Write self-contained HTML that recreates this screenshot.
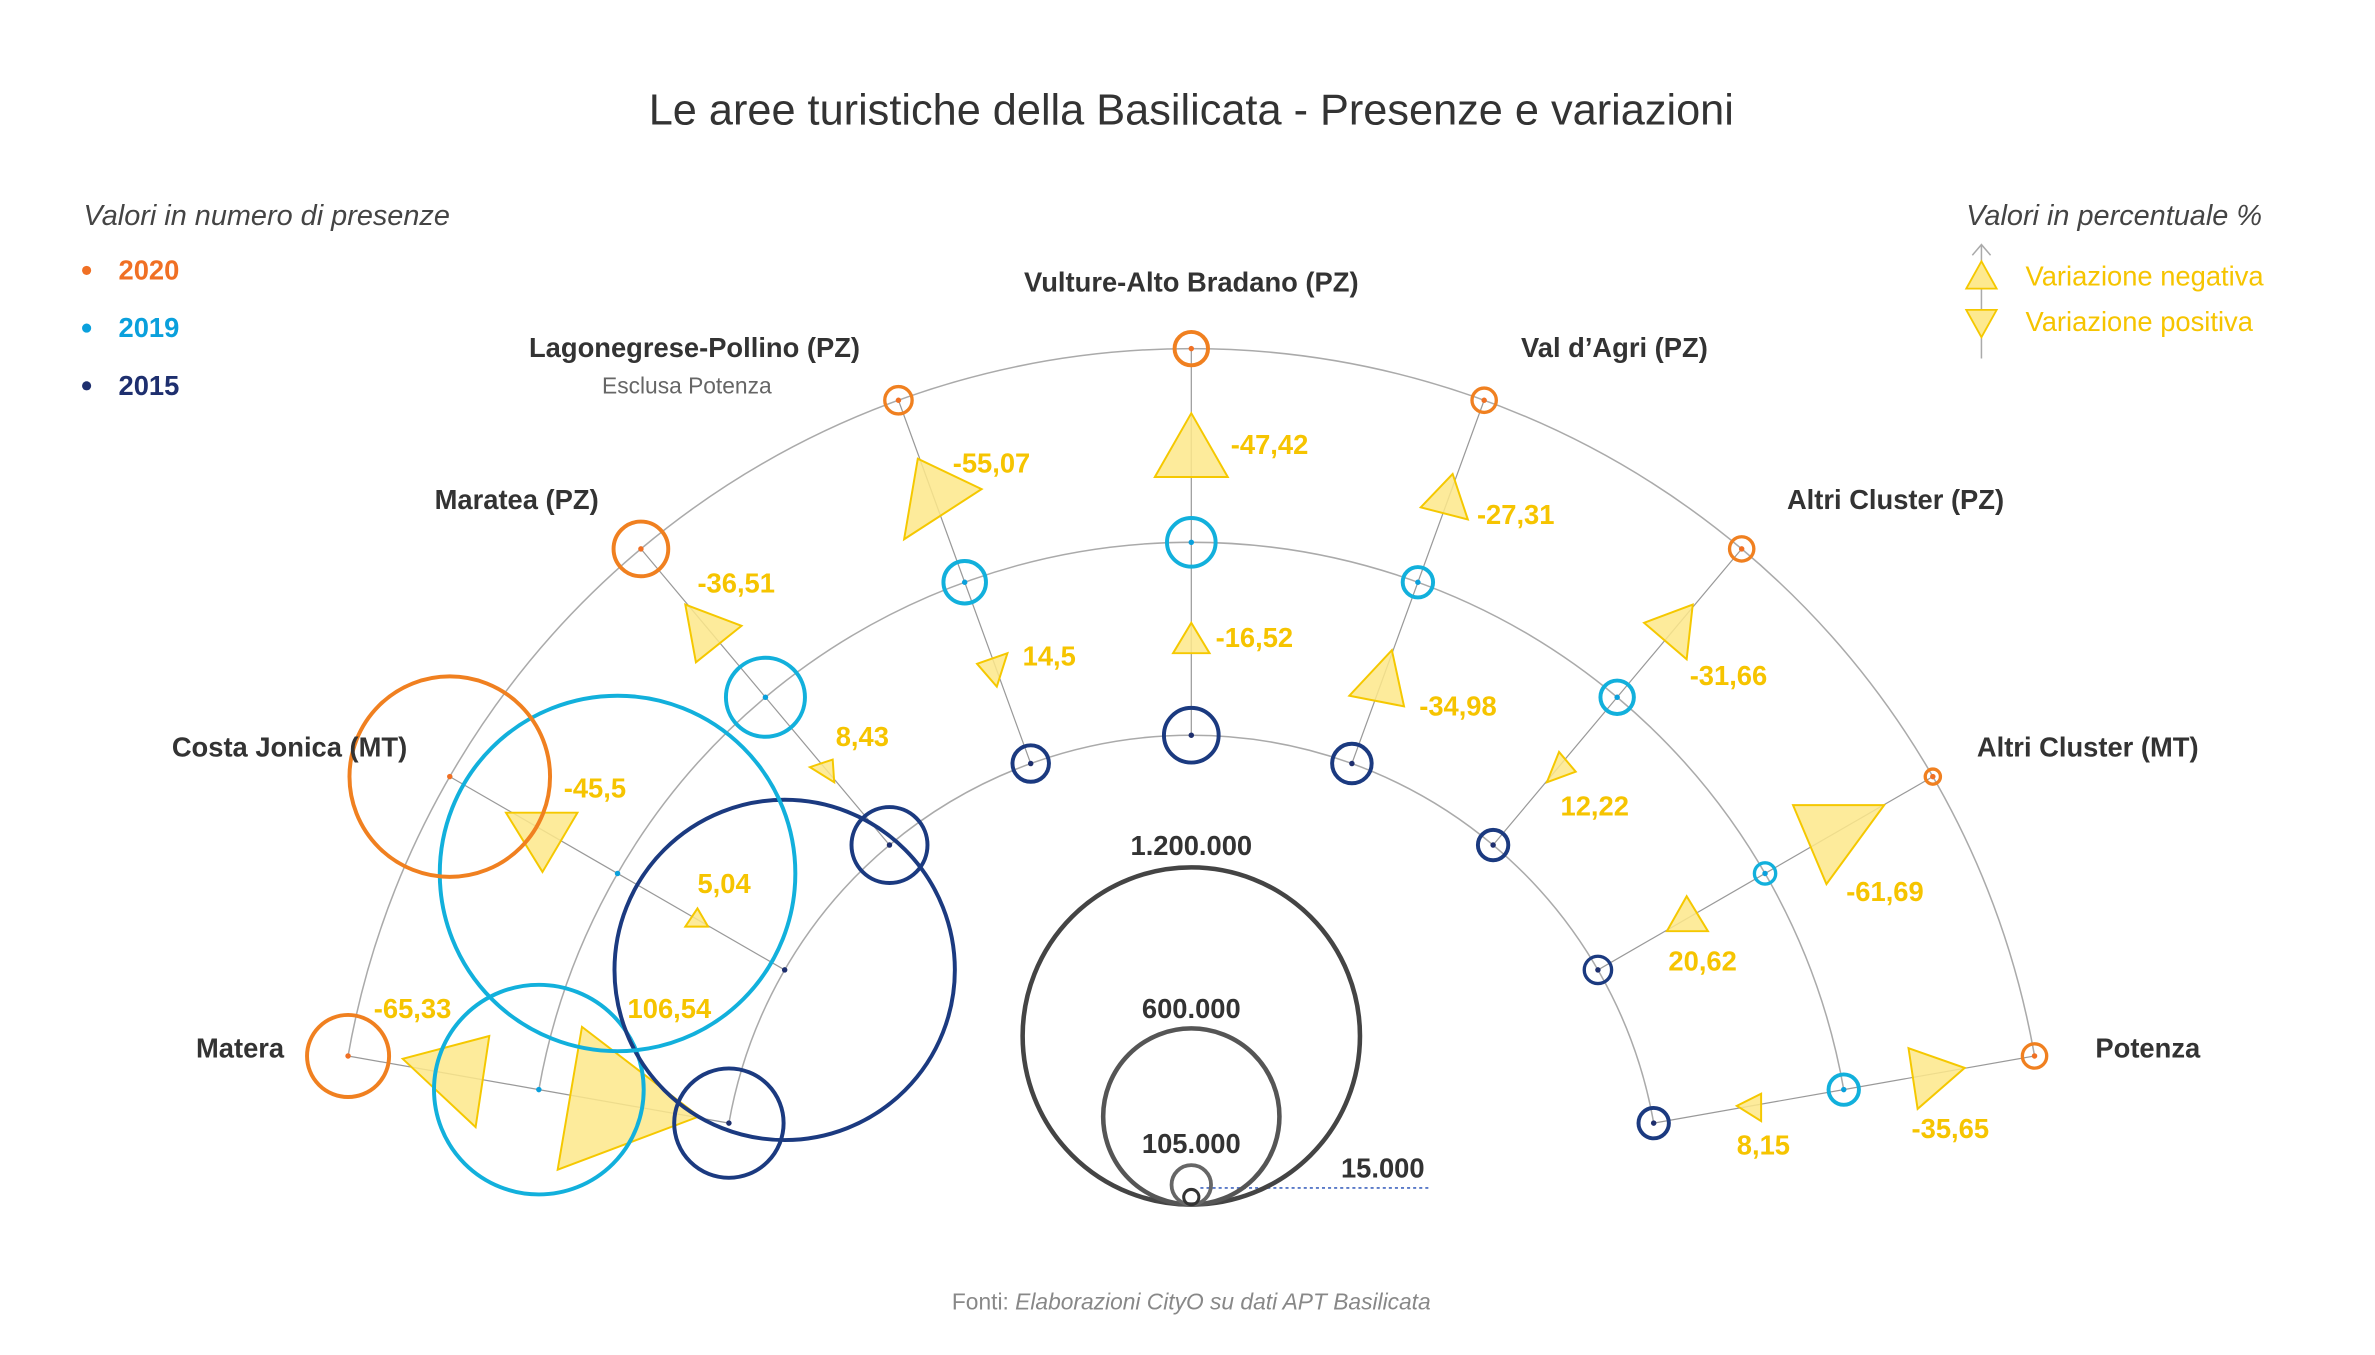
<!DOCTYPE html>
<html><head><meta charset="utf-8"><style>
html,body{margin:0;padding:0;background:#fff}
svg{display:block}
text{font-family:"Liberation Sans",sans-serif}
</style></head><body>
<svg id="s" width="2375" height="1355" viewBox="0 0 1563 892" preserveAspectRatio="none" xmlns="http://www.w3.org/2000/svg">
<rect width="1563" height="892" fill="#fff"/>
<text x="784" y="82" text-anchor="middle" font-size="28.5" fill="#333">Le aree turistiche della Basilicata - Presenze e variazioni</text>
<text x="55" y="148" font-size="19" font-style="italic" fill="#444">Valori in numero di presenze</text>
<circle cx="57" cy="178" r="3" fill="#f07024"/><text x="78" y="184" font-size="18" font-weight="bold" fill="#f07024">2020</text>
<circle cx="57" cy="216" r="3" fill="#0aa0dc"/><text x="78" y="222" font-size="18" font-weight="bold" fill="#0aa0dc">2019</text>
<circle cx="57" cy="254" r="3" fill="#1e2f6e"/><text x="78" y="260" font-size="18" font-weight="bold" fill="#1e2f6e">2015</text>
<text x="1294" y="148" font-size="19" font-style="italic" fill="#444">Valori in percentuale %</text>
<line x1="1304" y1="161" x2="1304" y2="236" stroke="#aaa" stroke-width="1"/>
<polyline points="1298,168 1304,161 1310,168" fill="none" stroke="#aaa"/>
<polygon points="1304,172 1294,190 1314,190" fill="#fde98f" stroke="#f5c800" stroke-width="1.2"/>
<polygon points="1294,204 1314,204 1304,222" fill="#fde98f" stroke="#f5c800" stroke-width="1.2"/>
<text x="1333" y="188" font-size="18" fill="#f6c400">Variazione negativa</text>
<text x="1333" y="218" font-size="18" fill="#f6c400">Variazione positiva</text>
<g id="g"></g>
<g font-size="18" fill="#333" font-weight="bold">
<text x="784" y="192" text-anchor="middle">Vulture-Alto Bradano (PZ)</text>
<text x="566" y="235" text-anchor="end">Lagonegrese-Pollino (PZ)</text>
<text x="1001" y="235">Val d’Agri (PZ)</text>
<text x="394" y="335" text-anchor="end">Maratea (PZ)</text>
<text x="1176" y="335">Altri Cluster (PZ)</text>
<text x="268" y="498" text-anchor="end">Costa Jonica (MT)</text>
<text x="1301" y="498">Altri Cluster (MT)</text>
<text x="187" y="696" text-anchor="end">Matera</text>
<text x="1379" y="696">Potenza</text>
</g>
<text x="452" y="259" text-anchor="middle" font-size="15" fill="#666">Esclusa Potenza</text>
<g fill="#333" font-size="18" text-anchor="middle" font-weight="bold">
<text x="784" y="563">1.200.000</text>
<text x="784" y="670">600.000</text>
<text x="784" y="759">105.000</text>
<text x="910" y="775">15.000</text>
</g>
<line x1="790" y1="782" x2="940" y2="782" stroke="#5a7ac8" stroke-width="1.2" stroke-dasharray="2,2"/>
<circle cx="784" cy="682" r="111" fill="none" stroke="#444" stroke-width="3"/>
<circle cx="784" cy="735" r="58" fill="none" stroke="#555" stroke-width="3"/>
<circle cx="784" cy="780" r="13" fill="none" stroke="#666" stroke-width="2.5"/>
<circle cx="784" cy="788" r="5" fill="none" stroke="#333" stroke-width="2"/>
<text x="784" y="862" text-anchor="middle" font-size="15" fill="#888">Fonti: <tspan font-style="italic">Elaborazioni CityO su dati APT Basilicata</tspan></text>
</svg>
<script>
var NS="http://www.w3.org/2000/svg",g=document.getElementById('g');
function el(t,a){var e=document.createElementNS(NS,t);for(var k in a)e.setAttribute(k,a[k]);g.appendChild(e);return e;}
var cx=784,cy=793,R=[563.5,436,309],cols=["#f08020","#12b0dc","#1b3a80"],dots=["#f07024","#0aa0dc","#1e2f6e"];
function pt(a,r){var t=a*Math.PI/180;return [cx+r*Math.cos(t),cy-r*Math.sin(t)];}
R.forEach(function(r){var p1=pt(170,r),p2=pt(10,r);el('path',{d:'M'+p1[0]+' '+p1[1]+' A'+r+' '+r+' 0 0 1 '+p2[0]+' '+p2[1],fill:'none',stroke:'#aaa','stroke-width':1});});
var angs=[170,150,130,110,90,70,50,30,10];
var sizes=[[27,69,36],[66,117,112],[18,26,25],[9,14,12],[11,16,18],[8,10,13],[8,11,10],[5,7,9],[8,10,10]];
angs.forEach(function(a){var p=R.map(function(r){return pt(a,r)});el('polyline',{points:p.map(function(q){return q.join(',')}).join(' '),fill:'none',stroke:'#999','stroke-width':0.8});});
var tris=[
[[784,272],[760,314],[808,314]],[[784,410],[772,430],[796,430]],
[[604,302],[595,355],[646,322]],[[643,437],[663,430],[656,452]],
[[956,312],[935,334],[966,342]],[[916,428],[888,458],[924,465]],
[[1114,398],[1082,410],[1110,434]],[[1026,495],[1018,515],[1037,508]],
[[1180,530],[1240,530],[1202,582]],[[1110,590],[1097,613],[1124,613]],
[[1256,690],[1293,703],[1262,730]],[[1143,728],[1159,720],[1159,738]],
[[451,398],[488,412],[458,436]],[[533,505],[548,500],[549,515]],
[[333,535],[380,535],[357,574]],[[459,598],[451,610],[466,610]],
[[265,697],[322,682],[313,742]],[[383,676],[367,770],[460,735]]];
tris.forEach(function(t){el('polygon',{points:t.map(function(q){return q.join(',')}).join(' '),fill:'#fde78a','fill-opacity':0.85,stroke:'#f5c800','stroke-width':1.3});});
angs.forEach(function(a,i){for(var j=2;j>=0;j--){var p=pt(a,R[j]);el('circle',{cx:p[0],cy:p[1],r:sizes[i][j],fill:'none',stroke:cols[j],'stroke-width':sizes[i][j]<10?2.2:2.6});el('circle',{cx:p[0],cy:p[1],r:1.8,fill:dots[j]});}});
var labs=[["-47,42",810,299],["-16,52",800,426],["-55,07",627,311],["14,5",673,438],["-27,31",972,345],["-34,98",934,471],["-31,66",1112,451],["12,22",1027,537],["-61,69",1215,593],["20,62",1098,639],["-35,65",1258,749],["8,15",1143,760],["-36,51",459,390],["8,43",550,491],["-45,5",371,525],["5,04",459,588],["-65,33",246,670],["106,54",413,670]];
labs.forEach(function(l){var e=el('text',{x:l[1],y:l[2],'font-size':18,fill:'#f6c400','font-weight':'bold'});e.textContent=l[0];});
</script>
</body></html>
